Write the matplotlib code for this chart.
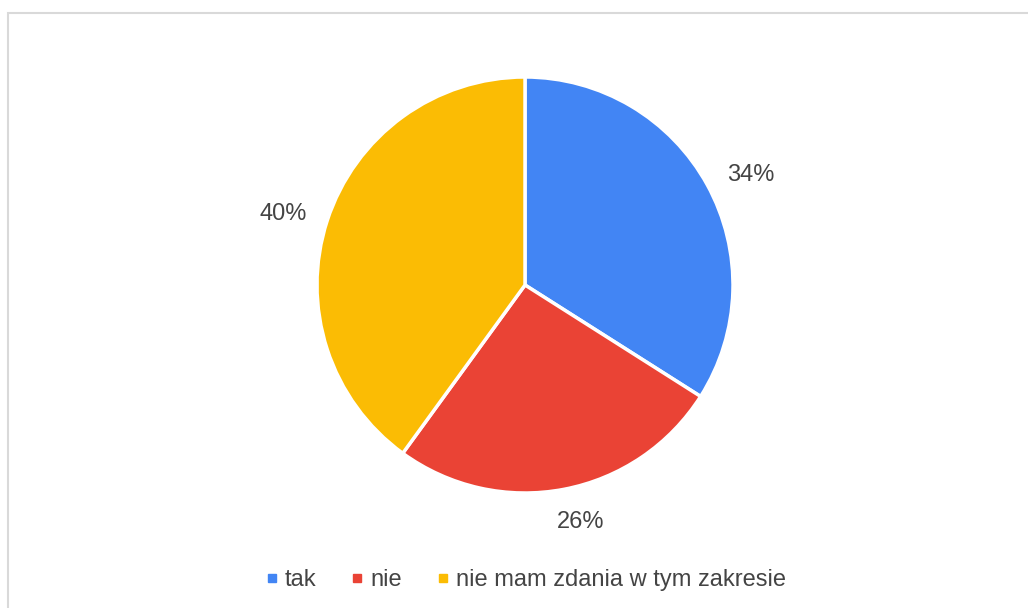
import matplotlib
matplotlib.use("Agg")
import matplotlib.pyplot as plt
from matplotlib.patches import Rectangle
from matplotlib.lines import Line2D

categories = ["tak", "nie", "nie mam zdania w tym zakresie"]
values = [34, 26, 40]
colors = ["#4285F4", "#EA4335", "#FBBC04"]

plt.rcParams['font.family'] = ['Liberation Sans', 'DejaVu Sans']

W, H = 1028, 608
fig = plt.figure(figsize=(W / 100, H / 100), dpi=100)
fig.patch.set_facecolor("white")

# outer frame (chart border, partially cropped)
fig.patches.append(Rectangle((7.5 / W, -0.05), 1.1, 1 - 12.5 / H + 0.05,
                             transform=fig.transFigure, fill=False,
                             edgecolor="#d9d9d9", linewidth=1.5))

ax = fig.add_axes([0, 0, 1, 1])
ax.axis("off")

wedges, texts, autotexts = ax.pie(
    values, colors=colors, startangle=90, counterclock=False,
    center=(525, H - 285), radius=208,
    autopct=lambda p: f"{p:.0f}%", pctdistance=1.22,
    wedgeprops=dict(edgecolor="white", linewidth=2.5),
    textprops=dict(fontsize=17, color="#444444"))

# small nudges of label placement (pixels)
nudges = [(3, -12), (8, 12), (0, -7)]
for t, (dx, dy) in zip(autotexts, nudges):
    x, y = t.get_position()
    t.set_position((x + dx, y + dy))

ax.set_xlim(0, W)
ax.set_ylim(0, H)
ax.set_aspect("equal")

handles = [Line2D([0], [0], marker="s", linestyle="none", markersize=5.5,
                  markerfacecolor=c, markeredgecolor=c) for c in colors]
fig.legend(handles, categories, loc="center", bbox_to_anchor=(526 / W, 1 - 580 / H),
           ncol=3, frameon=False, fontsize=17, handlelength=0.5, handletextpad=0.3,
           columnspacing=1.5, labelcolor="#444444")

fig.savefig("out.png", dpi=100, facecolor="white")
